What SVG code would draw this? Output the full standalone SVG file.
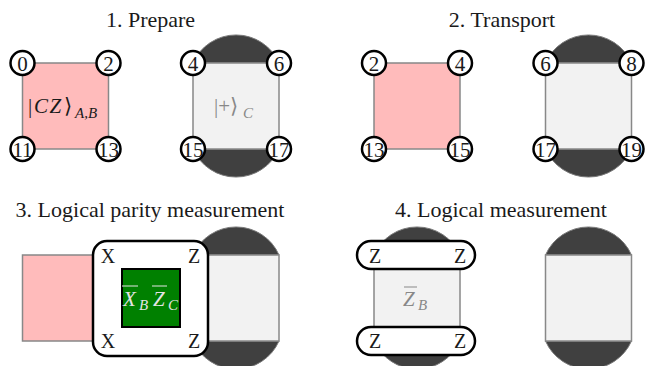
<svg xmlns="http://www.w3.org/2000/svg" width="646" height="366" viewBox="0 0 646 366" font-family="'Liberation Serif', 'Times New Roman', Times, 'DejaVu Serif', serif">
<style>
  text { font-family: 'Liberation Serif', 'Times New Roman', Times, 'DejaVu Serif', serif; fill: #1a1a1a; }
  .title { font-size: 22px; text-anchor: middle; }
  .pink { fill: #ffbbbb; stroke: #888888; stroke-width: 1.5; }
  .grey { fill: #f2f2f2; stroke: #888888; stroke-width: 1.5; }
  .cap { fill: #404040; stroke: #7a7a7a; stroke-width: 1; }
  .qb circle { fill: #ffffff; stroke: #000000; stroke-width: 2.5; }
  .qb text { font-size: 21px; text-anchor: middle; }
  .lbl { font-size: 20px; text-anchor: middle; }
  .it { font-style: italic; }
  .gtxt { fill: #888888; }
  .wtxt { fill: #e4e4e4; }
</style>
<defs>
  <path id="capTop" d="M0,0 A47,47 0 0 1 86,0 Z"/>
  <path id="capBot" d="M86,0 A47,47 0 0 1 0,0 Z"/>
</defs>

<g id="titles">
  <text class="title" x="150.5" y="27">1. Prepare</text>
  <text class="title" x="502" y="27">2. Transport</text>
  <text class="title" x="150" y="217">3. Logical parity measurement</text>
  <text class="title" x="501" y="217">4. Logical measurement</text>
</g>

<g id="connectors"/>

<!-- Panel 1 -->
<g id="p1-patchAB">
  <rect class="pink" x="22.5" y="63" width="86" height="86"/>
  <text y="113" font-size="21"><tspan x="28">|</tspan><tspan class="it" x="34" letter-spacing="1.5">CZ</tspan><tspan x="64">⟩</tspan><tspan class="it" x="75" y="118" font-size="15">A,B</tspan></text>
</g>
<g id="p1-patchC">
  <use href="#capTop" class="cap" x="193" y="63"/>
  <use href="#capBot" class="cap" x="193" y="149"/>
  <rect class="grey" x="193" y="63" width="86" height="86"/>
  <text y="113" font-size="21" class="gtxt"><tspan x="214" class="gtxt">|+⟩</tspan><tspan class="it gtxt" x="243" y="118" font-size="15">C</tspan></text>
</g>
<g id="p1-qubits" class="qb">
  <g id="q1-0"><circle cx="22.5" cy="63" r="12"/><text x="22.5" y="70.5">0</text></g>
  <g id="q1-2"><circle cx="108.5" cy="63" r="12"/><text x="108.5" y="70.5">2</text></g>
  <g id="q1-11"><circle cx="22.5" cy="149" r="12"/><text x="22.5" y="156.5">11</text></g>
  <g id="q1-13"><circle cx="108.5" cy="149" r="12"/><text x="108.5" y="156.5">13</text></g>
  <g id="q1-4"><circle cx="193" cy="63" r="12"/><text x="193" y="70.5">4</text></g>
  <g id="q1-6"><circle cx="279" cy="63" r="12"/><text x="279" y="70.5">6</text></g>
  <g id="q1-15"><circle cx="193" cy="149" r="12"/><text x="193" y="156.5">15</text></g>
  <g id="q1-17"><circle cx="279" cy="149" r="12"/><text x="279" y="156.5">17</text></g>
</g>

<!-- Panel 2 -->
<g id="p2-patchAB">
  <rect class="pink" x="374" y="63" width="86" height="86"/>
</g>
<g id="p2-patchC">
  <use href="#capTop" class="cap" x="545.5" y="63"/>
  <use href="#capBot" class="cap" x="545.5" y="149"/>
  <rect class="grey" x="545.5" y="63" width="86" height="86"/>
</g>
<g id="p2-qubits" class="qb">
  <g id="q2-2"><circle cx="374" cy="63" r="12"/><text x="374" y="70.5">2</text></g>
  <g id="q2-4"><circle cx="460" cy="63" r="12"/><text x="460" y="70.5">4</text></g>
  <g id="q2-13"><circle cx="374" cy="149" r="12"/><text x="374" y="156.5">13</text></g>
  <g id="q2-15"><circle cx="460" cy="149" r="12"/><text x="460" y="156.5">15</text></g>
  <g id="q2-6"><circle cx="545.5" cy="63" r="12"/><text x="545.5" y="70.5">6</text></g>
  <g id="q2-8"><circle cx="631.5" cy="63" r="12"/><text x="631.5" y="70.5">8</text></g>
  <g id="q2-17"><circle cx="545.5" cy="149" r="12"/><text x="545.5" y="156.5">17</text></g>
  <g id="q2-19"><circle cx="631.5" cy="149" r="12"/><text x="631.5" y="156.5">19</text></g>
</g>

<!-- Panel 3 -->
<g id="p3-patchAB">
  <rect class="pink" x="22.5" y="255" width="86" height="86"/>
</g>
<g id="p3-patchC">
  <use href="#capTop" class="cap" x="193" y="255"/>
  <use href="#capBot" class="cap" x="193" y="341"/>
  <rect class="grey" x="193" y="255" width="86" height="86"/>
</g>
<g id="p3-measurement">
  <rect x="93" y="241" width="115" height="115" rx="14" ry="14" fill="#ffffff" stroke="#000000" stroke-width="2.5"/>
  <text class="lbl" x="108" y="262.5">X</text>
  <text class="lbl" x="108" y="347.5">X</text>
  <text class="lbl" x="194" y="262.5">Z</text>
  <text class="lbl" x="194" y="347.5">Z</text>
</g>
<g id="p3-logical">
  <rect x="122" y="269" width="58" height="58" fill="#008000" stroke="#000000" stroke-width="2"/>
  <text y="306" font-size="21" class="wtxt"><tspan class="it wtxt" x="123">X</tspan><tspan class="it wtxt" x="139" y="310" font-size="15">B</tspan><tspan class="it wtxt" x="153" y="306">Z</tspan><tspan class="it wtxt" x="168" y="310" font-size="15">C</tspan></text>
  <line x1="122" y1="286" x2="138" y2="286" stroke="#e4e4e4" stroke-width="1"/>
  <line x1="152" y1="286" x2="167" y2="286" stroke="#e4e4e4" stroke-width="1"/>
</g>

<!-- Panel 4 -->
<g id="p4-patchB">
  <use href="#capTop" class="cap" x="374" y="255"/>
  <use href="#capBot" class="cap" x="374" y="341"/>
  <rect class="grey" x="374" y="255" width="86" height="86"/>
  <text y="306" font-size="21"><tspan class="it gtxt" x="403">Z</tspan><tspan class="it gtxt" x="418" y="310" font-size="15">B</tspan></text>
  <line x1="404" y1="287" x2="417" y2="287" stroke="#888888" stroke-width="1"/>
</g>
<g id="p4-measTop">
  <rect x="357" y="241" width="118" height="28" rx="14" ry="14" fill="#ffffff" stroke="#000000" stroke-width="2.5"/>
  <text class="lbl" x="375" y="262.5">Z</text>
  <text class="lbl" x="460" y="262.5">Z</text>
</g>
<g id="p4-measBot">
  <rect x="357" y="327" width="118" height="28" rx="14" ry="14" fill="#ffffff" stroke="#000000" stroke-width="2.5"/>
  <text class="lbl" x="375" y="348">Z</text>
  <text class="lbl" x="460" y="348">Z</text>
</g>
<g id="p4-patchC">
  <use href="#capTop" class="cap" x="545.5" y="255"/>
  <use href="#capBot" class="cap" x="545.5" y="341"/>
  <rect class="grey" x="545.5" y="255" width="86" height="86"/>
</g>
</svg>
